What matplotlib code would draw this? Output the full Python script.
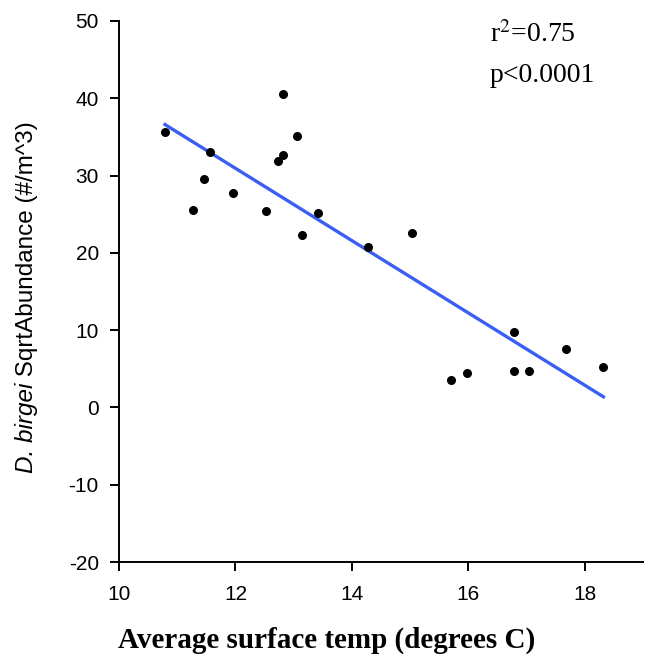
import matplotlib.pyplot as plt
import numpy as np

# surface temperature (deg C) and sqrt abundance readings
temp = [10.79, 11.27, 11.46, 11.56, 11.96, 12.52, 12.73, 12.82, 12.82,
        13.05, 13.14, 13.41, 14.27, 15.04, 15.70, 15.97, 16.79, 16.79,
        17.05, 17.67, 18.32]
abundance = [35.7, 25.6, 29.5, 33.1, 27.8, 25.4, 31.9, 32.6, 40.5,
             35.1, 22.3, 25.2, 20.8, 22.6, 3.6, 4.5, 9.7, 4.7,
             4.7, 7.5, 5.2]

x_ticks = [10, 12, 14, 16, 18]
y_ticks = [-20, -10, 0, 10, 20, 30, 40, 50]

plt.rcParams['axes.unicode_minus'] = False
plt.rcParams['mathtext.fontset'] = 'stix'

W, H = 647, 656
fig = plt.figure(figsize=(W / 100, H / 100), dpi=100)
ax = fig.add_axes([119 / W, 1 - 562 / H, 524 / W, 541 / H])

ax.scatter(temp, abundance, s=30, color='black', zorder=3)

slope, intercept = np.polyfit(temp, abundance, 1)
xs = np.array([min(temp), max(temp)])
ax.plot(xs, slope * xs + intercept, color='#3b5ff5', lw=2.4, zorder=2)

ax.set_xlim(10, 19)
ax.set_ylim(-20, 50)
ax.set_xticks(x_ticks)
ax.set_yticks(y_ticks)
ax.tick_params(direction='out', length=6.5, width=1.4, labelsize=15)
ax.tick_params(axis='y', pad=8)
ax.tick_params(axis='x', pad=10)
for lbl in ax.get_xticklabels() + ax.get_yticklabels():
    lbl.set_family('Liberation Sans')

for side in ['top', 'right']:
    ax.spines[side].set_visible(False)
for side in ['left', 'bottom']:
    ax.spines[side].set_linewidth(1.4)

fig.text(327 / W, 1 - 648 / H, 'Average surface temp (degrees C)',
         family='Liberation Serif', fontweight='bold', fontsize=21,
         ha='center', va='baseline')

# y label: italic species name followed by regular text
renderer = fig.canvas.get_renderer()
base_x, base_y = 33 / W, 1 - 473 / H
t1 = fig.text(base_x, base_y, 'D. birgei', rotation=90, rotation_mode='anchor',
              ha='left', va='baseline', family='Liberation Sans',
              style='italic', fontsize=17.5)
h1 = t1.get_window_extent(renderer).height / H
fig.text(base_x, base_y + h1, ' SqrtAbundance (#/m^3)', rotation=90,
         rotation_mode='anchor', ha='left', va='baseline',
         family='Liberation Sans', fontsize=17.5)

fig.text(490 / W, 1 - 42 / H, r'r$^2$=0.75', family='Liberation Serif',
         fontsize=20, va='baseline')
fig.text(490 / W, 1 - 82 / H, 'p<0.0001', family='Liberation Serif',
         fontsize=20, va='baseline')

fig.savefig('out.png', dpi=100)
